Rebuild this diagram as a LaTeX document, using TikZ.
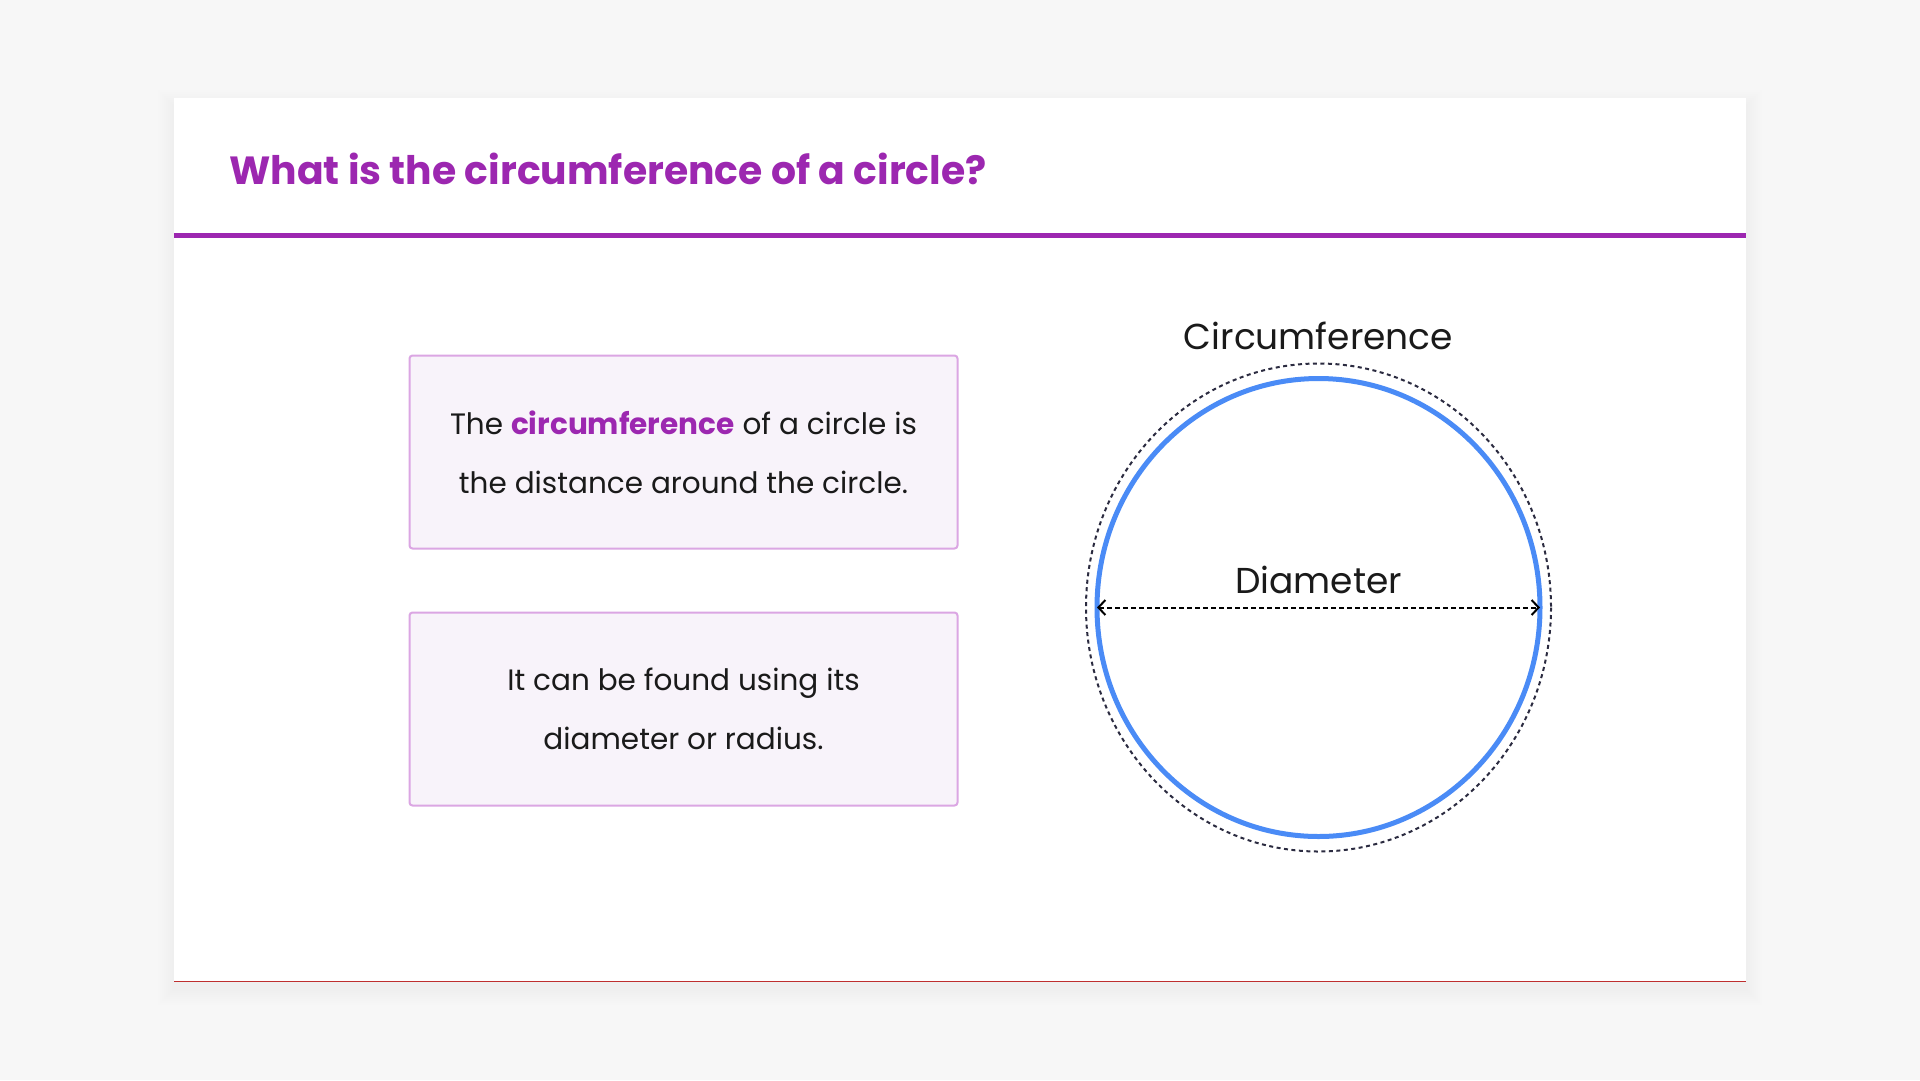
\documentclass[tikz,border=0pt]{standalone}
\usepackage{fontspec}
\setmainfont{Poppins}
\usetikzlibrary{arrows.meta}
\definecolor{brand}{HTML}{9C27B0}
\definecolor{boxline}{HTML}{DBA6E3}
\definecolor{boxfill}{HTML}{F8F3FA}
\definecolor{ink}{HTML}{1A1A1A}
\definecolor{ring}{HTML}{4A8BF6}
\definecolor{rim}{HTML}{2B2B40}
\definecolor{page}{HTML}{F7F7F7}
\begin{document}
\begin{tikzpicture}
    [
    x=1pt,y=-1pt,
    infobox/.style={draw=boxline,fill=boxfill,line width=2pt,rounded corners=3pt,inner sep=0pt,
      minimum width=548pt,minimum height=193pt,align=center,text=ink,font=\fontsize{29.5}{59}\selectfont},
    label/.style={text=ink,inner sep=0pt,anchor=base,font=\fontsize{36}{40}\selectfont},
    span/.style={dash pattern=on 5pt off 3pt,line width=2pt,{Straight Barb[length=7pt,width=15pt,line width=2pt]}-{Straight Barb[length=7pt,width=15pt,line width=2pt]}}
    ]
    \useasboundingbox (0,0) rectangle (1920,1080);
    \fill[page] (0,0) rectangle (1920,1080);
    \foreach \s in {2,4,...,16}
      \fill[black,opacity=0.005] (174-\s,98-\s+8) rectangle (1746+\s,981+\s+8);
    \fill[white] (174,98) rectangle (1746,981);
    \draw[red!70!black,opacity=0.8,line width=1pt] (174,981) -- (1746,981);
    % header
    \node (title) at (229,184) [anchor=base west,inner sep=0pt,text=brand,font=\fontsize{39.3}{44}\selectfont\bfseries] {What is the circumference of a circle?};
    \fill[brand] (174,233) rectangle (1746,238);
    % boxes
    \node (def) at (683.5,452) [infobox] {The \textcolor{brand}{\bfseries circumference} of a circle is\\the distance around the circle.};
    \node (use) at (683.5,709) [infobox] {It can be found using its\\diameter or radius.};
    % circle
    \coordinate (o) at (1318.5,607.5);
    \draw[rim,line width=2pt,dash pattern=on 4pt off 3.5pt] (o) ellipse [x radius=232.5,y radius=244];
    \draw[ring,line width=5pt] (o) ellipse [x radius=221.5,y radius=229];
    \node (circ) at (1318.5,349) [label] {Circumference};
    \node (diam) at (1318.5,593) [label] {Diameter};
    \coordinate (dl) at (1097,607.5);
    \coordinate (dr) at (1540,607.5);
    \draw[span] (dl) -- (dr);
  \end{tikzpicture}
\end{document}
